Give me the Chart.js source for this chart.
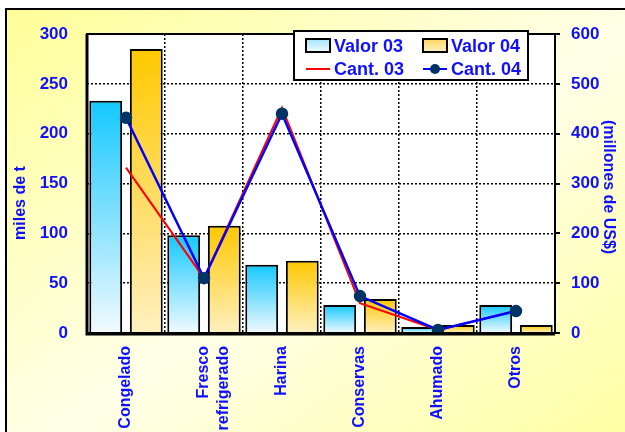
<!DOCTYPE html>
<html>
<head>
<meta charset="utf-8">
<script src="https://cdn.jsdelivr.net/npm/chart.js@4.4.1/dist/chart.umd.min.js"></script>
<style>
  html, body { margin: 0; padding: 0; background: #fff; overflow: hidden; }
  #frame {
    position: absolute; left: 5px; top: 8px; width: 650px; height: 460px;
    border: 2px solid #000;
    background: linear-gradient(to bottom right, #ffff99 0%, #ffffe8 50%, #ffff99 100%);
  }
  #wrap { position: absolute; left: 0; top: 0; width: 625px; height: 432px; }
</style>
</head>
<body>
<div id="frame"></div>
<div id="wrap"><canvas id="prodChart"></canvas></div>
<script>
const categories = ['Congelado', ['Fresco', 'refrigerado'], 'Harina', 'Conservas', 'Ahumado', 'Otros'];
const valor03 = [466, 196, 137, 56, 12, 56];
const valor04 = [570, 215, 145, 68, 16, 16];
const cant03 = [166, 55, 226, 30, 3, 22];
const cant04 = [216, 55, 220, 37, 3, 22];

const BLUE_TEXT = '#1010ff';
const FONT = "'Liberation Sans', Arial, sans-serif";

function barFill(topColor, bottomColor) {
  return function(ctx) {
    const chart = ctx.chart;
    if (!chart.chartArea || ctx.type !== 'data') return topColor;
    const scale = chart.scales.y1;
    const yTop = scale.getPixelForValue(ctx.raw);
    const yBot = scale.getPixelForValue(0);
    if (!isFinite(yTop) || yBot - yTop < 1) return topColor;
    const g = chart.ctx.createLinearGradient(0, yTop, 0, yBot);
    g.addColorStop(0, topColor);
    g.addColorStop(1, bottomColor);
    return g;
  };
}

// white plot area + frame
const plotArea = {
  id: 'plotArea',
  beforeDraw(chart) {
    const a = chart.chartArea, c = chart.ctx;
    c.save();
    c.fillStyle = '#fff';
    c.fillRect(a.left, a.top, a.right - a.left, a.bottom - a.top);
    c.restore();
  },
  afterDatasetsDraw(chart) {
    const a = chart.chartArea, c = chart.ctx;
    c.save();
    c.strokeStyle = '#000';
    c.lineWidth = 2;
    c.strokeRect(a.left, a.top, a.right - a.left, a.bottom - a.top);
    c.lineWidth = 3;
    c.beginPath();
    c.moveTo(a.left, a.top);
    c.lineTo(a.left, a.bottom + 1);
    c.lineTo(a.right, a.bottom + 1);
    c.stroke();
    c.restore();
  }
};

// axis titles
const axisTitles = {
  id: 'axisTitles',
  afterDraw(chart) {
    const c = chart.ctx;
    c.save();
    c.fillStyle = BLUE_TEXT;
    c.font = 'bold 16px ' + FONT;
    c.textAlign = 'center';
    c.textBaseline = 'middle';
    c.translate(21, 203);
    c.rotate(-Math.PI / 2);
    c.fillText('miles de t', 0, 0);
    c.restore();
    c.save();
    c.fillStyle = BLUE_TEXT;
    c.font = 'bold 16px ' + FONT;
    c.textAlign = 'center';
    c.textBaseline = 'middle';
    c.translate(608, 187);
    c.rotate(Math.PI / 2);
    c.fillText('(millones de US$)', 0, 0);
    c.restore();
  }
};

// legend box in the top right of the plot
const boxLegend = {
  id: 'boxLegend',
  afterDraw(chart) {
    const c = chart.ctx;
    const ds = chart.data.datasets;
    c.save();
    c.fillStyle = '#fff';
    c.fillRect(294, 31, 234, 49);
    c.strokeStyle = '#000';
    c.lineWidth = 2;
    c.strokeRect(294, 31, 234, 49);

    const cols = [306, 423];
    const rows = [46, 69];
    c.font = 'bold 18px ' + FONT;
    c.textBaseline = 'middle';
    ds.forEach((d, i) => {
      const x = cols[i % 2];
      const y = rows[Math.floor(i / 2)];
      if (d.type === 'bar') {
        const g = c.createLinearGradient(0, y - 7, 0, y + 6);
        g.addColorStop(0, d.legendTop);
        g.addColorStop(1, d.legendBottom);
        c.fillStyle = g;
        c.fillRect(x, y - 7, 24, 13);
        c.strokeStyle = '#000';
        c.lineWidth = 2;
        c.strokeRect(x, y - 7, 24, 13);
      } else {
        c.strokeStyle = d.borderColor;
        c.lineWidth = 2;
        c.beginPath();
        c.moveTo(x, y);
        c.lineTo(x + 24, y);
        c.stroke();
        if (d.pointRadius > 0) {
          c.fillStyle = d.pointBackgroundColor;
          c.beginPath();
          c.arc(x + 12, y, 5, 0, Math.PI * 2);
          c.fill();
        }
      }
      c.fillStyle = BLUE_TEXT;
      c.fillText(d.label, x + 28, y + 1);
    });
    c.restore();
  }
};

const ctx = document.getElementById('prodChart').getContext('2d');
const prodChart = new Chart(ctx, {
  data: {
    labels: categories,
    datasets: [
      {
        type: 'bar', label: 'Valor 03', data: valor03, yAxisID: 'y1', order: 3,
        backgroundColor: barFill('#14c8ff', '#f2faff'),
        legendTop: '#9fe4ff', legendBottom: '#f2faff',
        borderColor: '#000', borderWidth: 2,
        categoryPercentage: 1.04, barPercentage: 0.81
      },
      {
        type: 'bar', label: 'Valor 04', data: valor04, yAxisID: 'y1', order: 3,
        backgroundColor: barFill('#ffc800', '#fff0c0'),
        legendTop: '#ffd660', legendBottom: '#fff0c0',
        borderColor: '#000', borderWidth: 2,
        categoryPercentage: 1.04, barPercentage: 0.81
      },
      {
        type: 'line', label: 'Cant. 03', data: cant03, yAxisID: 'y', order: 1,
        borderColor: '#ff0000', borderWidth: 2, pointRadius: 0, tension: 0
      },
      {
        type: 'line', label: 'Cant. 04', data: cant04, yAxisID: 'y', order: 0,
        borderColor: '#0000ff', borderWidth: 2.5, tension: 0,
        pointRadius: 5, pointBackgroundColor: '#003366', pointBorderColor: '#003366'
      }
    ]
  },
  options: {
    responsive: true,
    maintainAspectRatio: false,
    animation: false,
    layout: { padding: { top: 34, left: 0, right: 0, bottom: 0 } },
    plugins: {
      legend: { display: false },
      tooltip: { enabled: false }
    },
    scales: {
      x: {
        afterFit: s => { s.height = 99; },
        grid: {
          color: '#000', lineWidth: 1.5, drawTicks: false, offset: true
        },
        border: { display: false, dash: [2, 2] },
        ticks: {
          color: BLUE_TEXT, minRotation: 90, maxRotation: 90, padding: 13,
          font: { family: FONT, size: 16, weight: 'bold' }
        }
      },
      y: {
        position: 'left', min: 0, max: 300,
        afterFit: s => { s.width = 87; },
        grid: {
          color: ctx => (ctx.tick && (ctx.tick.value === 0 || ctx.tick.value === 300)) ? 'rgba(0,0,0,0)' : '#000',
          lineWidth: 1.5, drawTicks: false
        },
        border: { display: false, dash: [2, 2] },
        ticks: {
          stepSize: 50, color: BLUE_TEXT, padding: 19,
          font: { family: FONT, size: 17, weight: 'bold' }
        }
      },
      y1: {
        position: 'right', min: 0, max: 600,
        afterFit: s => { s.width = 70; },
        grid: { drawOnChartArea: false, color: '#000', lineWidth: 2, tickLength: 5 },
        border: { display: false },
        ticks: {
          stepSize: 100, color: BLUE_TEXT, padding: 11,
          font: { family: FONT, size: 17, weight: 'bold' }
        }
      }
    }
  },
  plugins: [plotArea, axisTitles, boxLegend]
});
</script>
</body>
</html>
